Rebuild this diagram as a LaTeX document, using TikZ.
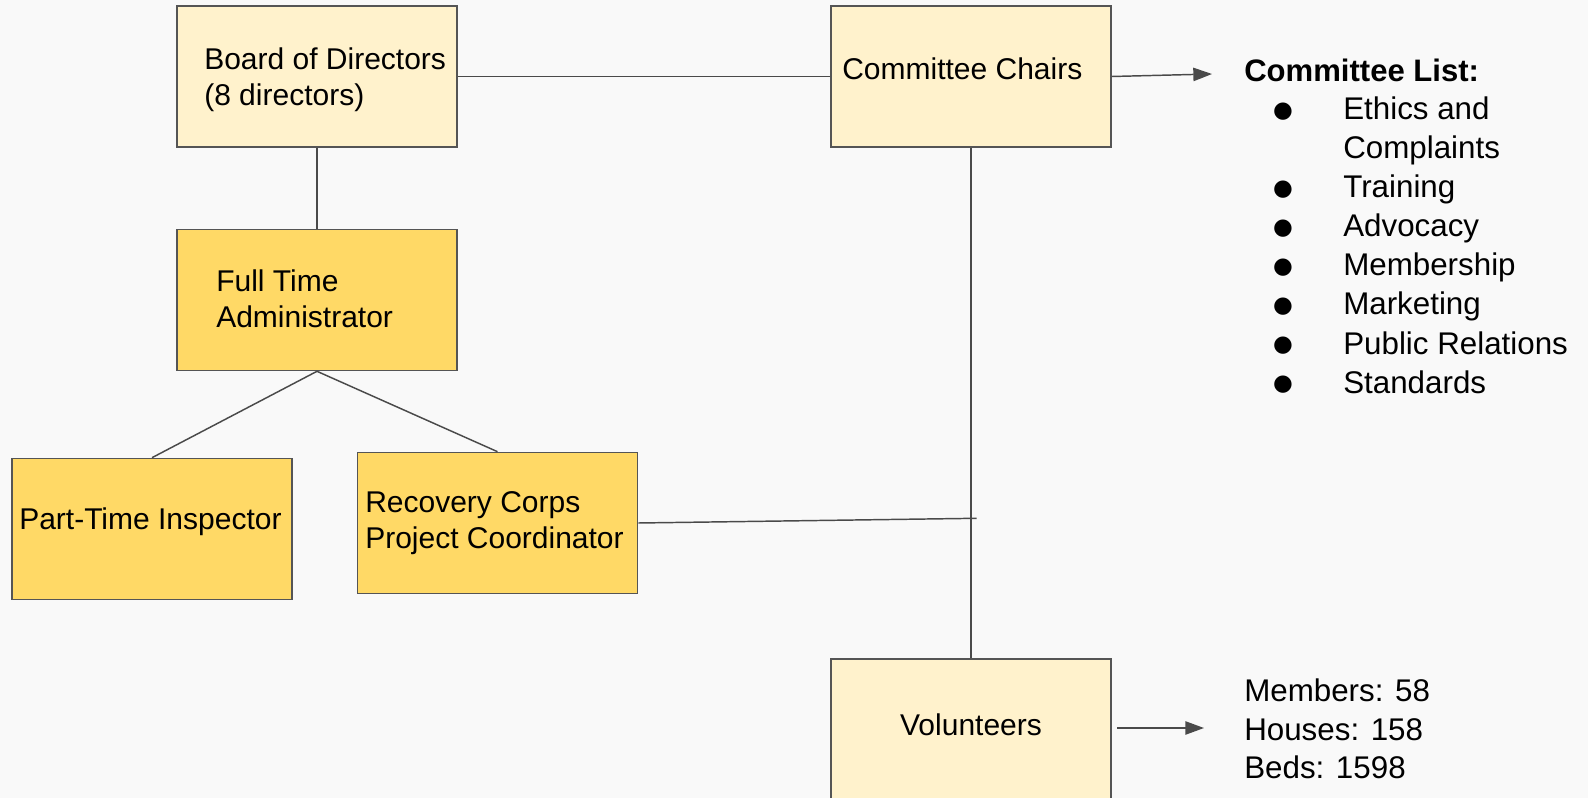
\documentclass[tikz,border=0pt]{standalone}
\usepackage{fontspec}
\setmainfont{Liberation Sans}
\newfontfamily\symfont{DejaVu Sans}
\usetikzlibrary{arrows.meta}
\definecolor{bgc}{HTML}{F9F9F9}
\definecolor{lightbox}{HTML}{FFF2CC}
\definecolor{darkbox}{HTML}{FFD966}
\definecolor{edgec}{HTML}{555555}
\definecolor{linec}{HTML}{4A4A4A}
\begin{document}
\begin{tikzpicture}[x=0.75pt,y=-0.75pt,
  box/.style={draw=edgec, line width=1.2pt, minimum width=210pt, minimum height=105.75pt,
    inner sep=0pt},
  lbox/.style={box, fill=lightbox},
  dbox/.style={box, fill=darkbox},
  boxtxt/.style={inner sep=0pt, align=left, font=\fontsize{22.5}{27}\selectfont, text=black},
  conn/.style={draw=linec, line width=1.1pt},
  arr/.style={conn, -{Triangle[length=14pt,width=10pt]}},
  listtxt/.style={anchor=base west, inner sep=0pt, font=\fontsize{23.5}{28}\selectfont},
  bul/.style={inner sep=0pt, font=\symfont\fontsize{17}{20}\selectfont}
]
\useasboundingbox (0,0) rectangle (1588,798);
\fill[bgc] (0,0) rectangle (1588,798);

% boxes
\node[lbox] (board) at (317,76.5) {};
\node[lbox] (chairs) at (971,76.5) {};
\node[dbox] (admin) at (317,300) {};
\node[dbox] (pti) at (152,529) {};
\node[dbox] (rcc) at (497.5,523) {};
\node[lbox] (vol) at (971,729.5) {};

% box texts
\node[boxtxt, anchor=west] (boardt) at (204,79.5) {Board of Directors\\(8 directors)};
\node[boxtxt, anchor=west] (chairst) at (842,69) {Committee Chairs};
\node[boxtxt, anchor=west] (admint) at (216,298.5) {Full Time\\Administrator};
\node[boxtxt, anchor=west] (ptit) at (19,522) {Part-Time Inspector};
\node[boxtxt, anchor=west] (rcct) at (365,523) {Recovery Corps\\Project Coordinator};
\node[boxtxt] (volt) at (971,724.5) {Volunteers};

% free ends
\coordinate (junc) at (976.5,518.3);
\coordinate (clend) at (1212,74);
\coordinate (statend) at (1204,728);

% connectors
\draw[conn] (board.east) -- (chairs.west);
\draw[conn] (board.south) -- (admin.north);
\draw[conn] (admin.south) -- (pti.north);
\draw[conn] (admin.south) -- (rcc.north);
\draw[conn] (chairs.south) -- (vol.north);
\draw[conn] (rcc.east) -- (junc);
\draw[arr] (chairs.east) -- (clend);
\draw[arr, shorten <=4pt] (vol.east |- statend) -- (statend);

% committee list
\node[anchor=base west, inner sep=0pt, font=\fontsize{23.3}{28}\bfseries\selectfont] (cltitle) at (1244,82) {Committee List:};
\node[listtxt] (it1) at (1343,119.4) {Ethics and};
\node[listtxt] (it1b) at (1343,158.5) {Complaints};
\node[listtxt] (it2) at (1343,197.6) {Training};
\node[listtxt] (it3) at (1343,236.7) {Advocacy};
\node[listtxt] (it4) at (1343,275.8) {Membership};
\node[listtxt] (it5) at (1343,314.9) {Marketing};
\node[listtxt] (it6) at (1343,354.0) {Public Relations};
\node[listtxt] (it7) at (1343,393.1) {Standards};
\node[bul] (b1) at (1283,111.4) {●};
\node[bul] (b2) at (1283,189.6) {●};
\node[bul] (b3) at (1283,228.7) {●};
\node[bul] (b4) at (1283,267.8) {●};
\node[bul] (b5) at (1283,306.9) {●};
\node[bul] (b6) at (1283,346.0) {●};
\node[bul] (b7) at (1283,385.1) {●};

% stats
\node[listtxt] (s1) at (1244,701.7) {Members: 58};
\node[listtxt] (s2) at (1244,740.2) {Houses: 158};
\node[listtxt] (s3) at (1244,778.7) {Beds: 1598};
\end{tikzpicture}
\end{document}
